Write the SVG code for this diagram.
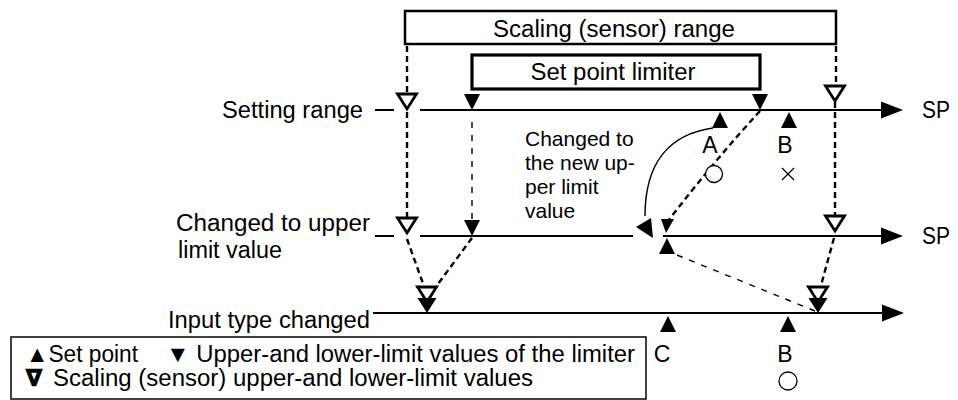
<svg xmlns="http://www.w3.org/2000/svg" width="958" height="400" viewBox="0 0 958 400">
<style>
text { font-family: "Liberation Sans", Arial, "DejaVu Sans", sans-serif; font-size: 23px; fill: #000; }
.sm { font-size: 21px; }
.ln { stroke: #000; stroke-width: 2; fill: none; }
.box { fill: #fff; stroke: #000; stroke-width: 2.5; }
.box2 { fill: #fff; stroke: #000; stroke-width: 3.2; }
.dsh { stroke: #000; stroke-width: 2.4; stroke-dasharray: 6 4; fill: none; }
.dth { stroke: #000; stroke-width: 1.4; stroke-dasharray: 6 7; fill: none; }
.open { fill: #fff; stroke: #000; stroke-width: 2.8; stroke-linejoin: miter; }
.blk { fill: #000; stroke: none; }
.thin { stroke: #000; stroke-width: 1.3; fill: #fff; }
</style>
<defs>
<path id="openTri" d="M-9.5,0 L9.5,0 L0,15 Z" class="open"/>
<path id="limTri" d="M-8,0 L8,0 L0,16 Z" class="blk"/>
<path id="limTriW" d="M-9.5,0 L9.5,0 L0,15 Z" class="blk"/>
<path id="spTri" d="M0,0 L8,16 L-8,16 Z" class="blk"/>
<path id="arrowR" d="M-22,-8.5 L0,0 L-22,8.5 Z" class="blk"/>
</defs>

<g id="scaling-range">
<rect x="405" y="11" width="431" height="33" class="box"/>
<text x="614" y="37" text-anchor="middle" textLength="242" lengthAdjust="spacingAndGlyphs">Scaling (sensor) range</text>
</g>
<g id="setpoint-limiter">
<rect x="472" y="55" width="288" height="34" class="box2"/>
<text x="613" y="80" text-anchor="middle" textLength="165" lengthAdjust="spacingAndGlyphs">Set point limiter</text>
</g>

<g id="connectors">
<path class="dsh" d="M407,46 V93"/>
<path class="dsh" d="M407,112 V217"/>
<path class="dsh" d="M407,239 L425,289"/>
<path class="dth" d="M472,122 V222"/>
<path class="dsh" d="M472,238 L432,292"/>
<path class="dsh" d="M836,46 V86"/>
<path class="dsh" d="M835,102 V216"/>
<path class="dsh" d="M834,238 L820,289"/>
<path class="dsh" d="M760,111 Q715,160 668,221"/>
<path class="dth" d="M677,255 L815,311"/>
<path class="ln" style="stroke-width:1.5" d="M713,128 C670,134 645,162 645,216"/>
<polygon class="blk" points="636,227 651,218 653,238"/>
<polygon class="blk" points="661,219 674,219 666,233"/>
</g>

<g id="setting-range-axis">
<text x="363" y="118" text-anchor="end" textLength="141" lengthAdjust="spacingAndGlyphs">Setting range</text>
<path class="ln" d="M375,110 H394 M420,110 H885"/>
<use href="#arrowR" x="903" y="110"/>
<text x="922" y="118" textLength="28" lengthAdjust="spacingAndGlyphs">SP</text>
<use href="#openTri" x="407" y="94"/>
<use href="#limTri" x="472" y="94"/>
<use href="#limTri" x="760" y="94"/>
<use href="#openTri" x="835" y="86"/>
<use href="#spTri" x="720" y="112"/>
<use href="#spTri" x="789" y="112"/>
<text x="710" y="153" text-anchor="middle">A</text>
<text x="785" y="153" text-anchor="middle">B</text>
<circle cx="714" cy="174" r="8.5" class="thin"/>
<path class="ln" style="stroke-width:1.3" d="M782,168 L794,180 M794,168 L782,180"/>
</g>

<g id="note">
<text class="sm" x="525" y="146">Changed to</text>
<text class="sm" x="525" y="170">the new up-</text>
<text class="sm" x="525" y="194">per limit</text>
<text class="sm" x="525" y="218">value</text>
</g>

<g id="changed-upper-axis">
<text x="176" y="231" textLength="194" lengthAdjust="spacingAndGlyphs">Changed to upper</text>
<text x="178" y="258" textLength="104" lengthAdjust="spacingAndGlyphs">limit value</text>
<path class="ln" d="M375,236 H394 M420,236 H633 M663,236 H885"/>
<use href="#arrowR" x="903" y="236"/>
<text x="922" y="244" textLength="28" lengthAdjust="spacingAndGlyphs">SP</text>
<use href="#openTri" x="407" y="218"/>
<use href="#limTri" x="472" y="220"/>
<use href="#openTri" x="835" y="216"/>
<use href="#spTri" x="667" y="238"/>
</g>

<g id="input-type-axis">
<text x="370" y="328" text-anchor="end" textLength="202" lengthAdjust="spacingAndGlyphs">Input type changed</text>
<path class="ln" d="M373,313 H885"/>
<use href="#arrowR" x="904" y="313"/>
<use href="#openTri" x="427" y="287"/>
<use href="#limTriW" x="427" y="298"/>
<use href="#openTri" x="818" y="287"/>
<use href="#limTriW" x="818" y="298"/>
<use href="#spTri" x="668" y="316"/>
<use href="#spTri" x="788" y="316"/>
<text x="662" y="362" text-anchor="middle">C</text>
<text x="785" y="362" text-anchor="middle">B</text>
<circle cx="788" cy="381" r="9" class="thin"/>
</g>

<g id="legend">
<rect x="11" y="337" width="635" height="62" fill="#fff" stroke="#000" stroke-width="1.5"/>
<text y="362"><tspan x="26" textLength="112" lengthAdjust="spacingAndGlyphs">▲Set point</tspan><tspan x="166" textLength="469" lengthAdjust="spacingAndGlyphs">▼ Upper-and lower-limit values of the limiter</tspan></text>
<text y="386"><tspan x="26" font-weight="bold" stroke="#000" stroke-width="1.1">∇</tspan><tspan x="53" textLength="480" lengthAdjust="spacingAndGlyphs">Scaling (sensor) upper-and lower-limit values</tspan></text>
</g>
</svg>
